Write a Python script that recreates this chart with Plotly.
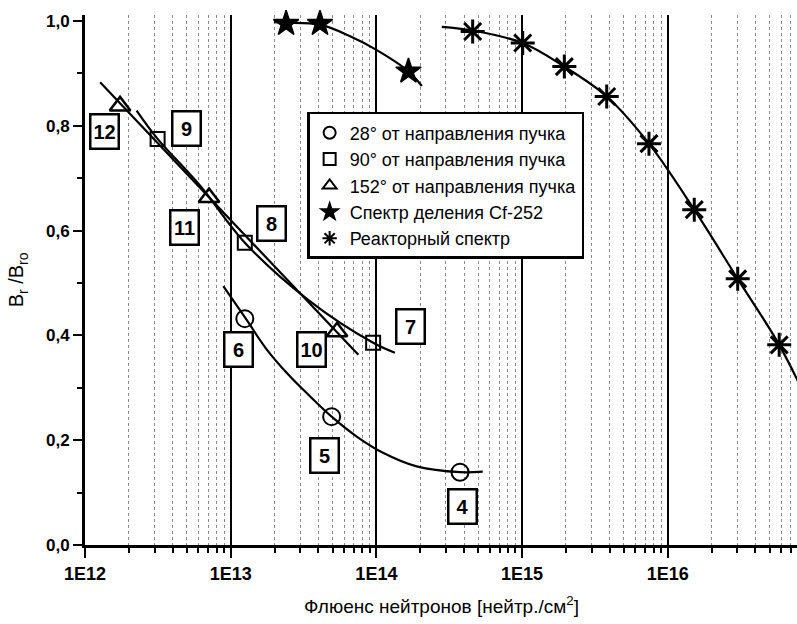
import plotly.graph_objects as go

# ---------------- data ----------------
circle_x = [1.25e13, 4.93e13, 3.75e14]
circle_y = [0.432, 0.245, 0.139]
square_x = [3.15e12, 1.25e13, 9.5e13]
square_y = [0.775, 0.577, 0.386]
triangle_x = [1.74e12, 7.1e12, 5.37e13]
triangle_y = [0.838, 0.663, 0.407]
cf_x = [2.4e13, 4.1e13, 1.66e14]
cf_y = [0.995, 0.995, 0.904]
reactor_x = [4.58e14, 1.01e15, 1.95e15, 3.81e15, 7.43e15, 1.52e16, 3.02e16, 5.82e16]
reactor_y = [0.980, 0.958, 0.913, 0.856, 0.766, 0.640, 0.508, 0.382]

# fitted curves
circle_fit_x = [8.9e12, 1.27e13, 1.77e13, 2.55e13, 3.5e13, 4.93e13, 7.33e13, 1.11e14, 1.89e14, 3.75e14, 5.37e14]
circle_fit_y = [0.494, 0.432, 0.373, 0.322, 0.284, 0.245, 0.207, 0.176, 0.150, 0.139, 0.140]
square_fit_x = [2.26e12, 3.15e12, 6.15e12, 1.25e13, 3.4e13, 9.5e13, 1.34e14]
square_fit_y = [0.829, 0.775, 0.686, 0.577, 0.468, 0.386, 0.367]
triangle_fit_x = [1.27e12, 7.52e13]
triangle_fit_y = [0.883, 0.363]
cf_fit_x = [1.98e13, 2.4e13, 4.1e13, 6.6e13, 1.0e14, 1.66e14, 2.05e14]
cf_fit_y = [0.998, 0.997, 0.993, 0.971, 0.945, 0.904, 0.876]
reactor_fit_x = [2.81e14, 4.58e14, 1.01e15, 1.95e15, 3.81e15, 7.43e15, 1.52e16, 3.02e16, 5.82e16, 8.9e16]
reactor_fit_y = [0.989, 0.982, 0.958, 0.913, 0.856, 0.766, 0.640, 0.508, 0.382, 0.28]

legend_names = ["28° от направления пучка", "90° от направления пучка",
                "152° от направления пучка", "Спектр деления Cf-252", "Реакторный спектр"]

x_tick_vals = [1e12, 1e13, 1e14, 1e15, 1e16]
x_tick_text = ["1E12", "1E13", "1E14", "1E15", "1E16"]
y_tick_vals = [0.0, 0.2, 0.4, 0.6, 0.8, 1.0]
y_tick_text = ["0,0", "0,2", "0,4", "0,6", "0,8", "1,0"]

# numbered boxes: label, log10(x), y
box_labels = ["12", "9", "11", "8", "6", "10", "7", "5", "4"]
box_logx = [12.137, 12.697, 12.683, 13.283, 13.054, 13.558, 14.237, 13.647, 14.594]
box_y = [0.790, 0.795, 0.6055, 0.613, 0.374, 0.374, 0.417, 0.1705, 0.073]

FONT = "Liberation Sans, Arial, sans-serif"

fig = go.Figure()

for fx, fy, shape in [(circle_fit_x, circle_fit_y, "spline"), (square_fit_x, square_fit_y, "spline"),
                      (triangle_fit_x, triangle_fit_y, "linear"), (cf_fit_x, cf_fit_y, "spline"),
                      (reactor_fit_x, reactor_fit_y, "spline")]:
    fig.add_trace(go.Scatter(x=fx, y=fy, mode="lines", line=dict(color="black", width=2.2, shape=shape),
                             showlegend=False, hoverinfo="skip"))

markers = [
    (circle_x, circle_y, "circle-open", 17, 2),
    (square_x, square_y, "square-open", 14, 2),
    (triangle_x, triangle_y, "triangle-up-open", 18, 2.5),
    (cf_x, cf_y, "star", 19, 1.5),
    (reactor_x, reactor_y, "asterisk-open", 20, 3),
]
for (mx, my, sym, size, lw), name in zip(markers, legend_names):
    fig.add_trace(go.Scatter(x=mx, y=my, mode="markers", name=name, legendgroup=name,
                             marker=dict(symbol=sym, size=size, color="black",
                                         line=dict(color="black", width=lw)),
                             cliponaxis=False))

for lab, lx, ly in zip(box_labels, box_logx, box_y):
    fig.add_annotation(x=lx, y=ly, xref="x", yref="y", text="<b>%s</b>" % lab, showarrow=False,
                       font=dict(family=FONT, size=20, color="black"),
                       bgcolor="white", bordercolor="black", borderwidth=2.5, borderpad=1,
                       width=24, height=30)

fig.add_annotation(x=0.5, y=-0.113, xref="paper", yref="paper", showarrow=False,
                   xanchor="center", yanchor="middle",
                   text="Флюенс нейтронов [нейтр./см<sup>2</sup>]",
                   font=dict(family=FONT, size=19, color="black"))
fig.add_annotation(x=-0.095, y=0.5, xref="paper", yref="paper", showarrow=False, textangle=-90,
                   xanchor="center", yanchor="middle",
                   text="B<sub>r</sub> /B<sub>ro</sub>",
                   font=dict(family=FONT, size=20, color="black"))

minor_x = [m * 10 ** e for e in range(12, 17) for m in range(2, 10)]

fig.update_layout(
    width=797, height=624,
    margin=dict(l=85, r=0, t=15, b=79, autoexpand=False),
    paper_bgcolor="white", plot_bgcolor="white",
    font=dict(family=FONT, color="black"),
    legend=dict(x=0.312, y=0.817, xanchor="left", yanchor="top",
                bgcolor="white", bordercolor="black", borderwidth=2.5,
                font=dict(family=FONT, size=18, color="black"),
                itemsizing="constant", tracegroupgap=0,
                entrywidth=270, entrywidthmode="pixels"),
    xaxis=dict(type="log", range=[12, 16.887], tickvals=x_tick_vals, ticktext=x_tick_text,
               automargin=False,
               showline=True, linecolor="black", linewidth=3, ticks="outside", ticklen=10,
               tickwidth=2, tickcolor="black",
               showgrid=True, gridcolor="black", gridwidth=2, zeroline=False,
               tickfont=dict(family=FONT, size=18, color="black", weight="bold"),
               minor=dict(tickvals=minor_x, ticks="outside", ticklen=5, tickwidth=2, tickcolor="black",
                          showgrid=True, gridcolor="#8a8a8a", gridwidth=1, griddash="dot")),
    yaxis=dict(range=[0, 1.0115], tickvals=y_tick_vals, ticktext=y_tick_text,
               automargin=False,
               showline=True, linecolor="black", linewidth=3, ticks="outside", ticklen=9,
               tickwidth=2, tickcolor="black", showgrid=False, zeroline=False,
               tickfont=dict(family=FONT, size=17, color="black", weight="bold"),
               minor=dict(dtick=0.1, ticks="outside", ticklen=5, tickwidth=2, tickcolor="black",
                          showgrid=False)),
)

fig.write_html("out.html", config={"displayModeBar": False},
               post_script="document.body.style.margin='0';document.body.style.overflow='hidden';")
